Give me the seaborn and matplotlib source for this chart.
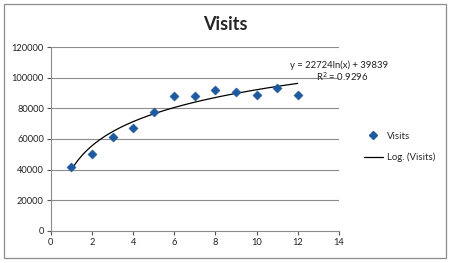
import numpy as np
import pandas as pd
import seaborn as sns
import matplotlib
matplotlib.use("Agg")
import matplotlib.pyplot as plt
from matplotlib.lines import Line2D
from matplotlib.patches import Rectangle

months = [1, 2, 3, 4, 5, 6, 7, 8, 9, 10, 11, 12]
visits = [42000, 50000, 61500, 67200, 77800, 88000, 88000, 92300, 90600, 88600, 93500, 88700]
trend_a = 22724
trend_b = 39839
eq_text = "y = 22724ln(x) + 39839"
r2_text = "R$^2$ = 0.9296"
x_ticks = [0, 2, 4, 6, 8, 10, 12, 14]
y_ticks = [0, 20000, 40000, 60000, 80000, 100000, 120000]

sns.set_theme(style="white")
plt.rcParams["font.family"] = ["Lato", "DejaVu Sans"]

fig = plt.figure(figsize=(4.5, 2.63), dpi=100)
ax = fig.add_axes([0.113, 0.122, 0.640, 0.699])

df = pd.DataFrame({"x": months, "y": visits})
tx = np.linspace(1, 12, 200)
tdf = pd.DataFrame({"x": tx, "y": trend_a * np.log(tx) + trend_b})

for yv in y_ticks[1:]:
    ax.axhline(yv, color="#8c8c8c", lw=0.8, zorder=0)

sns.lineplot(data=tdf, x="x", y="y", ax=ax, color="black", lw=0.9, zorder=2)
sns.scatterplot(data=df, x="x", y="y", ax=ax, marker="D", s=22, color="#1F5A9E",
                edgecolor="#1F5A9E", linewidth=0.3, zorder=3)

ax.set_xlim(0, 14)
ax.set_ylim(0, 120000)
ax.set_xticks(x_ticks)
ax.set_yticks(y_ticks)
ax.set_xlabel("")
ax.set_ylabel("")
ax.tick_params(axis="both", labelsize=6.7, colors="#555555", labelcolor="#222222",
               length=3, width=0.8, direction="out", pad=2)
ax.tick_params(axis="y", left=True)
ax.tick_params(axis="x", bottom=True)
for s in ["top", "right"]:
    ax.spines[s].set_visible(False)
for s in ["left", "bottom"]:
    ax.spines[s].set_color("#8c8c8c")
    ax.spines[s].set_linewidth(0.8)

fig.text(0.5, 1 - 24 / 263, "Visits", ha="center", va="center", fontsize=13, fontweight="bold")
fig.text(339 / 450, 1 - 65 / 263, eq_text, ha="center", va="center", fontsize=6.8, color="#222222")
fig.text(342 / 450, 1 - 77 / 263, r2_text, ha="center", va="center", fontsize=6.8, color="#222222")

handles = [
    Line2D([], [], marker="D", color="#1F5A9E", lw=0, markersize=4.5),
    Line2D([], [], color="black", lw=0.9),
]
fig.legend(handles, ["Visits", "Log. (Visits)"], loc="center left",
           bbox_to_anchor=(355 / 450, 1 - 147 / 263), frameon=False, fontsize=6.9,
           handlelength=2.0, labelspacing=1.25, handletextpad=0.4)

fig.patches.append(Rectangle((0.008, 0.02), 0.984, 0.965, transform=fig.transFigure,
                             fill=False, edgecolor="#8c8c8c", lw=0.9))

fig.savefig("out.png", dpi=100)
